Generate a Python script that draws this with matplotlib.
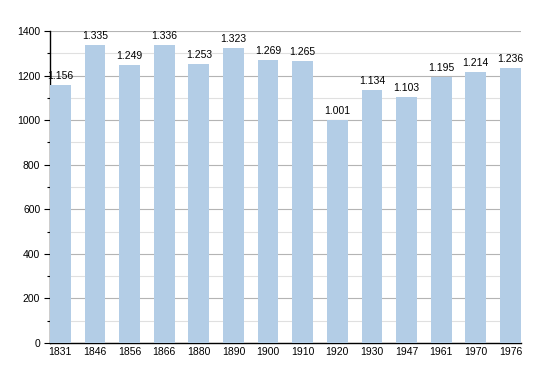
import numpy as np
import matplotlib.pyplot as plt
from matplotlib.ticker import MultipleLocator

years = ['1831', '1846', '1856', '1866', '1880', '1890', '1900',
         '1910', '1920', '1930', '1947', '1961', '1970', '1976']
population = [1156, 1335, 1249, 1336, 1253, 1323, 1269,
              1265, 1001, 1134, 1103, 1195, 1214, 1236]

plt.rcParams['font.family'] = ['Liberation Sans', 'DejaVu Sans']

fig = plt.figure(figsize=(5.5, 3.73), dpi=100)
ax = fig.add_axes([0.0909, 0.0804, 0.856, 0.8365])

x = np.arange(len(years))
w = 0.6
ax.bar(x, population, width=w, color='#b3cde6', zorder=3)

# labels above bars, dot as thousands separator
for xi, v in zip(x, population):
    lab = '{:,}'.format(v).replace(',', '.')
    ax.text(xi, v + 18, lab, ha='center', va='bottom', fontsize=7.5, zorder=4)

ax.set_xlim(-w / 2, len(years) - 1 + w / 2)
ax.set_ylim(0, 1400)
ax.set_xticks(x)
ax.set_xticklabels(years, fontsize=7.5)
ax.yaxis.set_major_locator(MultipleLocator(200))
ax.yaxis.set_minor_locator(MultipleLocator(100))
ax.tick_params(axis='y', labelsize=7.5, length=4, width=0.8, pad=3)
ax.tick_params(axis='y', which='minor', length=2.5, width=0.8)
ax.tick_params(axis='x', length=0, pad=3)

ax.grid(axis='y', which='major', color='#b4b4b4', linewidth=0.8, zorder=1)
ax.grid(axis='y', which='minor', color='#e0e0e0', linewidth=0.8, zorder=1)

for s in ['top', 'right']:
    ax.spines[s].set_visible(False)
ax.spines['left'].set_linewidth(1.0)
ax.spines['bottom'].set_linewidth(1.0)

fig.savefig('out.png', dpi=100)
